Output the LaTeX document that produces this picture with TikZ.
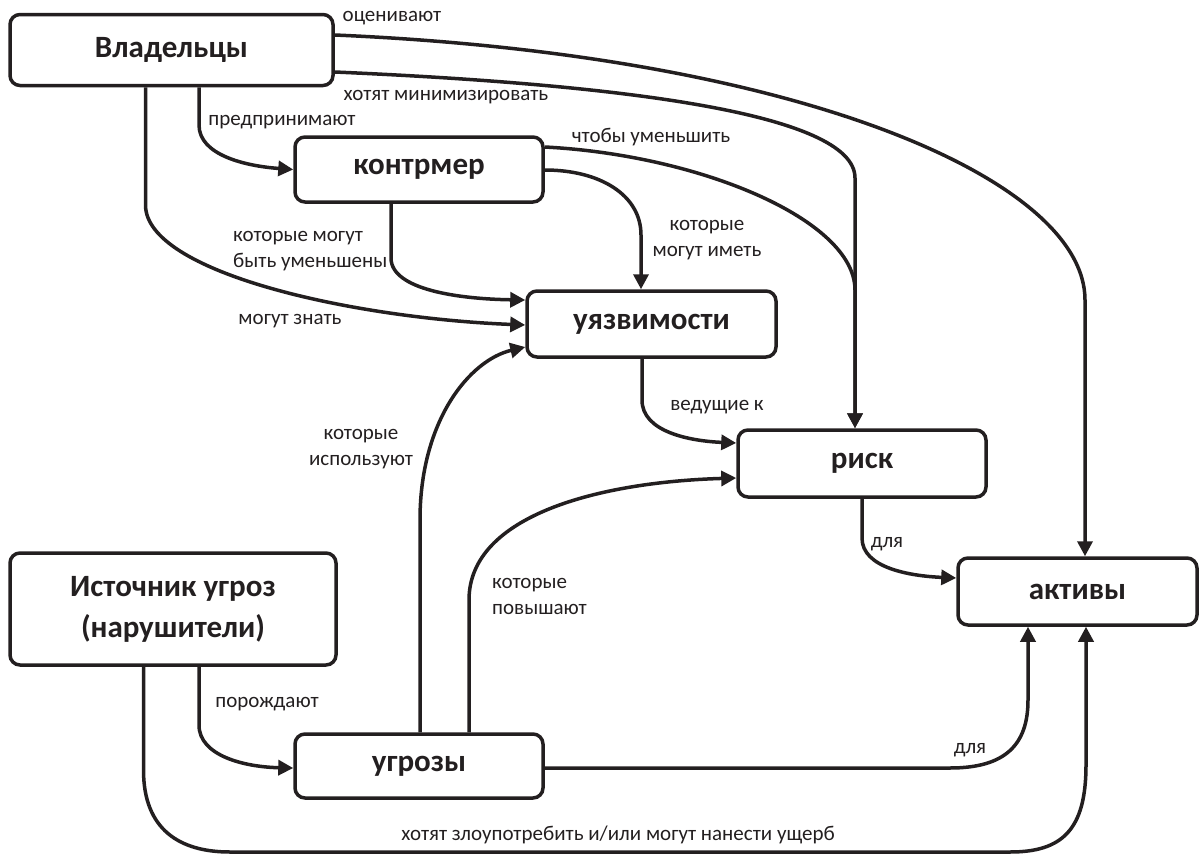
\documentclass[tikz,border=0pt]{standalone}
\usepackage{fontspec}
\setmainfont{Carlito}
\usetikzlibrary{arrows.meta}
\definecolor{ink}{HTML}{231F20}
\begin{document}
\begin{tikzpicture}[x=1pt,y=-1pt,
  box/.style={draw=ink, line width=3.5pt, rounded corners=10pt, fill=white, inner sep=0pt,
    font=\fontsize{31}{41}\selectfont\bfseries, text=ink, align=center},
  conn/.style={draw=ink, line width=3.5pt, -{Triangle[length=15pt,width=15pt]}},
  lbl/.style={font=\fontsize{21}{26}\selectfont, text=ink, inner sep=0pt, align=center},
  lbll/.style={lbl, align=left, anchor=west}
]
\useasboundingbox (0,0) rectangle (1200,854);

% boxes
\node[box, minimum width=323pt, minimum height=71pt] (own) at (171.5,50) {Владельцы};
\node[box, minimum width=248pt, minimum height=65pt] (cm) at (419,169.5) {контрмер};
\node[box, minimum width=249pt, minimum height=66pt] (vul) at (651.5,324) {уязвимости};
\node[box, minimum width=248pt, minimum height=67pt] (risk) at (862,463.5) {риск};
\node[box, minimum width=239pt, minimum height=67pt] (assets) at (1077.5,591.5) {активы};
\node[box, minimum width=326pt, minimum height=112pt] (src) at (173,609) {Источник угроз\\(нарушители)};
\node[box, minimum width=248pt, minimum height=64pt] (thr) at (419,766) {угрозы};

% connectors
\draw[conn] ([xshift=27.5pt]own.south) -- (199,125) .. controls (199,155) and (245,166) .. (cm.west);
\draw[conn] ([xshift=-26pt]own.south) -- (145.5,205) .. controls (145.5,272) and (350,318) .. ([yshift=-1pt]vul.west);
\draw[conn] ([xshift=-28pt]cm.south) -- (391,258) .. controls (391,290) and (460,299) .. ([yshift=24pt]vul.west);
\draw[conn] ([yshift=-0.5pt]cm.east) .. controls (600,170) and (641,195) .. (641,235) -- ([xshift=-10.5pt]vul.north);
\draw[conn] ([yshift=22.5pt]cm.east) .. controls (700,155) and (855,220) .. (855,290) -- ([xshift=-7pt]risk.north);
\draw[conn] ([yshift=-22pt]own.east) .. controls (610,84) and (855,112) .. (855,178) -- ([xshift=-7pt]risk.north);
\draw[conn] ([yshift=15pt]own.east) .. controls (800,55) and (1085,180) .. (1085,300) -- ([xshift=7.5pt]assets.north);
\draw[conn] ([xshift=-9.5pt]vul.south) -- (642,400) .. controls (642,432) and (690,441) .. ([yshift=20.5pt]risk.west);
\draw[conn] ([xshift=50pt]thr.north) -- (469,600) .. controls (469,515) and (600,482) .. ([yshift=-14.5pt]risk.west);
\draw[conn] ([xshift=1pt]thr.north) -- (420,520) .. controls (420,420) and (470,360) .. ([yshift=-23pt]vul.west);
\draw[conn] ([xshift=0pt]risk.south) -- (862,538) .. controls (862,568) and (910,576) .. ([yshift=13.5pt]assets.west);
\draw[conn] ([yshift=-2pt]thr.east) -- (950,768) .. controls (1005,768) and (1028,745) .. (1028,700) -- ([xshift=-49.5pt]assets.south);
\draw[conn] ([xshift=26pt]src.south) -- (199,725) .. controls (199,756) and (245,767) .. ([yshift=-2pt]thr.west);
\draw[conn] ([xshift=-29.5pt]src.south) -- (143.5,770) .. controls (143.5,830) and (180,852) .. (230,852) -- (1010,852) .. controls (1062,852) and (1086,830) .. (1086,765) -- ([xshift=8.5pt]assets.south);

% labels
\node[lbl] (l1) at (392,18) {оценивают};
\node[lbl] (l2) at (446,97) {хотят минимизировать};
\node[lbl] (l3) at (282,122) {предпринимают};
\node[lbl] (l4) at (651,137) {чтобы уменьшить};
\node[lbl] (l5) at (707,240) {которые\\могут иметь};
\node[lbll] (l6) at (233,251) {которые могут\\быть уменьшены};
\node[lbl] (l7) at (290,321) {могут знать};
\node[lbl] (l8) at (717,407) {ведущие к};
\node[lbl] (l9) at (361,449) {которые\\используют};
\node[lbl] (l10) at (887,544) {для};
\node[lbll] (l11) at (492,596) {которые\\повышают};
\node[lbl] (l12) at (267,704) {порождают};
\node[lbl] (l13) at (970,750) {для};
\node[lbl] (l14) at (618,835) {хотят злоупотребить и/или могут нанести ущерб};
\end{tikzpicture}
\end{document}
